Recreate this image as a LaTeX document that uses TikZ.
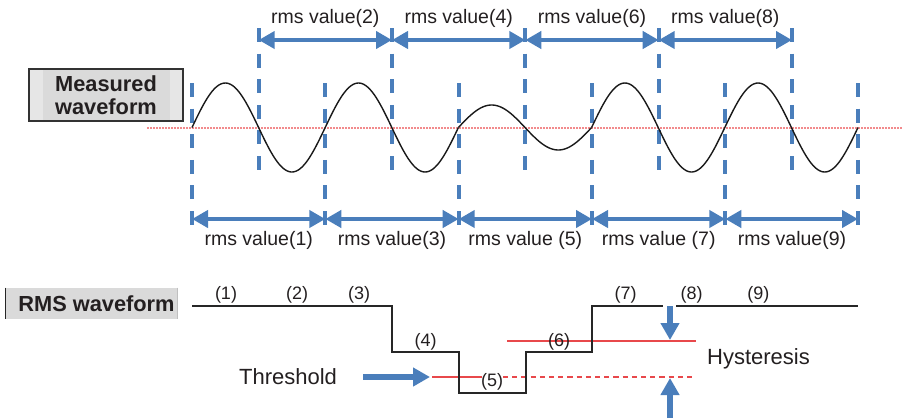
\documentclass[tikz,border=0pt]{standalone}
\usepackage{fontspec}
\setmainfont{Liberation Sans}
\usetikzlibrary{arrows.meta}
\definecolor{myblue}{HTML}{4A7EBB}
\definecolor{myred}{HTML}{E8484B}
\definecolor{dotred}{HTML}{F28A8C}
\definecolor{txt}{HTML}{231F20}
\definecolor{boxouter}{HTML}{E6E6E6}
\definecolor{boxinner}{HTML}{DADADA}
\begin{document}
\begin{tikzpicture}[x=0.5pt,y=-0.5pt,
  vdash/.style={draw=myblue,line width=2pt,dash pattern=on 7pt off 5.8pt},
  dim/.style={draw=myblue,line width=2.3pt,{Triangle[length=8pt,width=8.5pt]}-{Triangle[length=8pt,width=8.5pt]}},
  bigarrow/.style={draw=myblue,line width=3pt,-{Triangle[length=8.5pt,width=9pt]}},
  lab/.style={font=\fontsize{9.75}{11}\selectfont,text=txt,inner sep=1pt},
  num/.style={font=\fontsize{9}{10}\selectfont,text=txt,inner sep=1pt},
  big/.style={font=\fontsize{11}{13}\selectfont,text=txt,inner sep=1pt},
  boxtext/.style={font=\fontsize{10.9}{11.6}\selectfont\bfseries,text=txt,align=center,inner sep=0pt},
  wave/.style={draw=black!90,line width=0.7pt},
  stepline/.style={draw=black!85,line width=0.6pt},
  redline/.style={draw=myred,line width=0.6pt},
]
\useasboundingbox (0,0) rectangle (903,418);

% ---------- Measured waveform box ----------
\fill[boxouter] (29,69) rectangle (183,121);
\fill[boxinner] (43,69.5) rectangle (170,120.5);
\node[draw=black!80,line width=0.6pt,minimum width=77pt,minimum height=26pt] (mwbox) at (106,95) {};
\node[boxtext] (mw) at (106,95) {Measured\\waveform};

% ---------- dashed window boundaries ----------
\foreach \n/\xx in {1/192,2/325.3,3/458.7,4/592,5/725.3,6/858}{
  \coordinate (L\n) at (\xx,219);
  \draw[vdash] (\xx,83) -- (\xx,227);
}
\foreach \n/\xx in {1/258.7,2/392,3/525.3,4/658.7,5/792}{
  \coordinate (U\n) at (\xx,40);
  \draw[vdash] (\xx,28) -- (\xx,172);
}

% ---------- zero line ----------
\coordinate (z0) at (147,128);
\coordinate (z1) at (903,128);
\draw[draw=dotred,line width=0.8pt,dash pattern=on 0.8pt off 0.7pt] (z0) -- (z1);

% ---------- measured waveform ----------
\draw[wave] plot[domain=192:458.4,samples=160,smooth] (\x,{127.5-44.5*sin(2.7027*(\x-192))});
\draw[wave] plot[domain=458.4:591.6,samples=80,smooth] (\x,{127.5-22.5*sin(2.7027*(\x-192))});
\draw[wave] plot[domain=591.6:858,samples=160,smooth] (\x,{127.5-44.5*sin(2.7027*(\x-192))});

% ---------- rms windows ----------
\draw[dim] (U1) -- (U2);
\draw[dim] (U2) -- (U3);
\draw[dim] (U3) -- (U4);
\draw[dim] (U4) -- (U5);
\node[lab] (t2) at (325.3,18) {rms value(2)};
\node[lab] (t4) at (458.7,18) {rms value(4)};
\node[lab] (t6) at (592,18) {rms value(6)};
\node[lab] (t8) at (725.3,18) {rms value(8)};

\draw[dim] (L1) -- (L2);
\draw[dim] (L2) -- (L3);
\draw[dim] (L3) -- (L4);
\draw[dim] (L4) -- (L5);
\draw[dim] (L5) -- (L6);
\node[lab] (b1) at (258.7,240) {rms value(1)};
\node[lab] (b3) at (392,240) {rms value(3)};
\node[lab] (b5) at (525.3,240) {rms value (5)};
\node[lab] (b7) at (658.7,240) {rms value (7)};
\node[lab] (b9) at (792,240) {rms value(9)};

% ---------- RMS waveform box ----------
\node[fill=boxinner,minimum width=85.5pt,minimum height=15.5pt,inner sep=0pt] (rwbox) at (91.5,303.5) {};
\draw[black!85,line width=0.8pt] (rwbox.north west) -- (rwbox.south west);
\draw[black!25,line width=0.5pt] (rwbox.north east) -- (rwbox.south east);
\node[boxtext] (rw) at (96.5,303.5) {RMS waveform};

% ---------- hysteresis thresholds ----------
\coordinate (h0) at (507,341);
\coordinate (h1) at (696,341);
\draw[redline] (h0) -- (h1);
\coordinate (th0) at (432,377);
\coordinate (th1) at (482,377);
\coordinate (th2) at (503,377);
\coordinate (th3) at (696,377);
\draw[redline] (th0) -- (th1);
\draw[redline,dash pattern=on 2.6pt off 2pt] (th2) -- (th3);

% ---------- RMS step waveform ----------
\draw[stepline] (192,306) -- (392,306) -- (392,352) -- (459,352) -- (459,393)
  -- (526,393) -- (526,352) -- (592,352) -- (592,306) -- (663,306);
\draw[stepline] (676,306) -- (858,306);

\node[num] (n1) at (226,295) {(1)};
\node[num] (n2) at (297,295) {(2)};
\node[num] (n3) at (359,295) {(3)};
\node[num] (n4) at (425.7,341.5) {(4)};
\node[num] (n5) at (492,382) {(5)};
\node[num] (n6) at (559,341.5) {(6)};
\node[num] (n7) at (625.7,295) {(7)};
\node[num] (n8) at (691.7,295) {(8)};
\node[num] (n9) at (758.3,295) {(9)};

% ---------- labels and arrows ----------
\node[big] (thr) at (288,377) {Threshold};
\node[big] (hys) at (758.5,359) {Hysteresis};
\coordinate (ta) at (363,377);
\coordinate (tb) at (430,377);
\draw[bigarrow] (ta) -- (tb);
\coordinate (da) at (670,306);
\coordinate (db) at (670,340);
\draw[bigarrow] (da) -- (db);
\coordinate (ua) at (670,418);
\coordinate (ub) at (670,378);
\draw[bigarrow] (ua) -- (ub);
\end{tikzpicture}
\end{document}
